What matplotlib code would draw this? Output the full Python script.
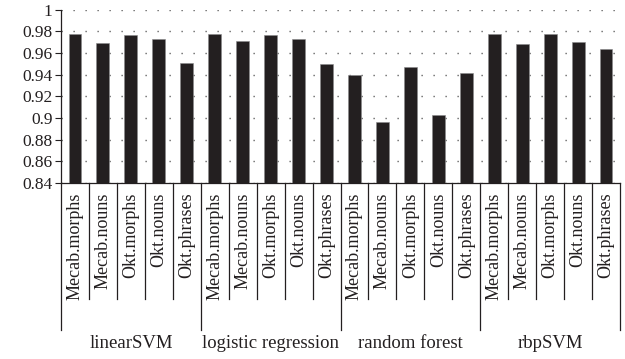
import matplotlib
matplotlib.use("Agg")
import matplotlib.pyplot as plt
import matplotlib.transforms as mtransforms

plt.rcParams['font.family'] = ['Liberation Serif', 'DejaVu Serif']

groups = ["linearSVM", "logistic regression", "random forest", "rbpSVM"]
features = ["Mecab.morphs", "Mecab.nouns", "Okt.morphs", "Okt.nouns", "Okt.phrases"]
values = {
    "linearSVM":           [0.978, 0.9695, 0.977, 0.973, 0.951],
    "logistic regression": [0.978, 0.971, 0.977, 0.9726, 0.9495],
    "random forest":       [0.9396, 0.8965, 0.9473, 0.9028, 0.9418],
    "rbpSVM":              [0.9775, 0.9686, 0.978, 0.9704, 0.964],
}
yticks = [0.84, 0.86, 0.88, 0.9, 0.92, 0.94, 0.96, 0.98, 1.0]
ytick_labels = ["0.84", "0.86", "0.88", "0.9", "0.92", "0.94", "0.96", "0.98", "1"]

fig = plt.figure(figsize=(6.25, 3.59), dpi=100)
ax = fig.add_axes([61/625, 1-183/359, 559/625, (183-9.67)/359])

labels = []
vals = []
for g in groups:
    for f, v in zip(features, values[g]):
        labels.append(f)
        vals.append(v)
x = list(range(len(vals)))

ax.bar(x, [v - 0.84 for v in vals], bottom=0.84, width=0.46, color='#231f20',
       edgecolor='#8a8a8a', linewidth=0.4, zorder=3)

ax.set_xlim(-0.5, len(vals) - 0.5)
ax.set_ylim(0.84, 1.0)
ax.set_yticks(yticks)
ax.set_yticklabels(ytick_labels, fontsize=12.5, color='#231f20')
ax.set_xticks(x)
ax.set_xticklabels(labels, rotation=90, fontsize=13, color='#231f20', va='top')
ax.tick_params(axis='x', length=0, pad=7)
ax.tick_params(axis='y', direction='out', length=4, width=0.8, pad=2, color='#231f20')

for s in ['top', 'right']:
    ax.spines[s].set_visible(False)
for s in ['left', 'bottom']:
    ax.spines[s].set_color('#231f20')
    ax.spines[s].set_linewidth(0.9)

ax.yaxis.grid(True, linestyle=(0, (0.9, 7.74)), linewidth=1.0, color='#555555', zorder=0)
ax.set_axisbelow(True)

trans = mtransforms.blended_transform_factory(ax.transData, ax.transAxes)
n = len(vals)
for b in range(n + 1):
    xb = b - 0.5
    y0 = -0.848 if b % 5 == 0 else -0.669
    ax.plot([xb, xb], [0, y0], transform=trans, color='#231f20', lw=0.9, clip_on=False)

for i, g in enumerate(groups):
    ax.text(i * 5 + 2, -0.925, g, transform=trans, ha='center', va='center',
            fontsize=13.5, color='#231f20')

fig.savefig("out.png", dpi=100)
